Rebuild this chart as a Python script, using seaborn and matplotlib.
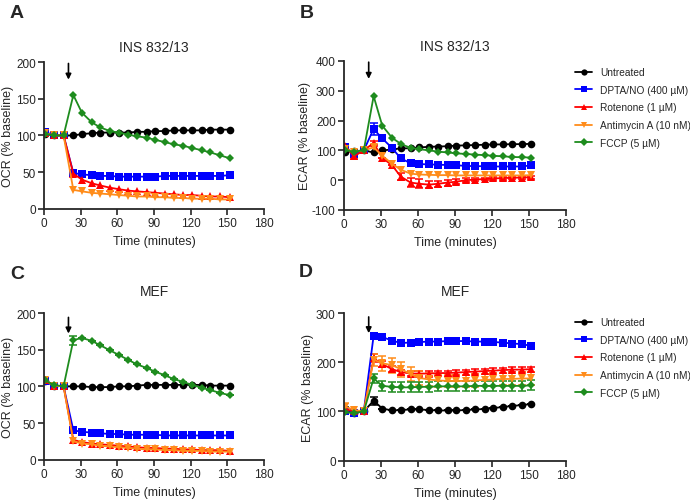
import matplotlib
matplotlib.use("Agg")
import matplotlib.pyplot as plt
import numpy as np
import pandas as pd
import seaborn as sns

# sampling times (minutes)
times = [1, 8, 16, 24, 31, 39, 46, 54, 61, 69, 76, 84, 91, 99, 106, 114, 121, 129, 136, 144, 152]
treatments = ["Untreated", "DPTA/NO (400 \u00b5M)", "Rotenone (1 \u00b5M)",
              "Antimycin A (10 nM)", "FCCP (5 \u00b5M)"]
colors = ["#000000", "#0000FF", "#FF0000", "#FF8C1A", "#1E8C1E"]
marker_styles = ["o", "s", "^", "v", "D"]

# A: OCR, INS 832/13
a_untreated = [102, 100, 100, 100, 102, 103, 104, 104, 104, 104, 105, 105, 106, 106, 107, 107, 107, 107, 108, 108, 108]
a_dpta = [105, 100, 100, 49, 47, 46, 45, 45, 44, 44, 44, 44, 44, 45, 45, 45, 45, 45, 45, 45, 46]
a_rotenone = [103, 100, 100, 48, 40, 35, 32, 29, 27, 25, 24, 23, 22, 21, 20, 19, 19, 18, 17, 17, 16]
a_antimycin = [103, 100, 100, 26, 24, 22, 21, 20, 19, 18, 17, 17, 16, 16, 15, 15, 14, 14, 14, 13, 13]
a_fccp = [102, 100, 100, 155, 131, 118, 111, 106, 104, 101, 99, 97, 94, 91, 88, 86, 83, 80, 77, 73, 69]

# B: ECAR, INS 832/13
b_untreated = [95, 97, 100, 93, 100, 103, 107, 107, 110, 112, 113, 114, 116, 117, 118, 119, 120, 120, 121, 121, 122]
b_dpta = [112, 88, 100, 172, 140, 108, 73, 57, 54, 53, 52, 51, 50, 48, 47, 47, 46, 46, 46, 46, 50]
b_rotenone = [115, 80, 100, 125, 75, 50, 12, -8, -12, -15, -12, -8, -5, 0, 2, 4, 6, 7, 8, 9, 10]
b_antimycin = [105, 95, 100, 110, 82, 55, 35, 22, 19, 18, 17, 17, 16, 16, 16, 16, 16, 16, 16, 16, 17]
b_fccp = [100, 96, 100, 282, 183, 142, 122, 108, 104, 100, 96, 93, 90, 88, 86, 84, 82, 80, 78, 77, 76]
b_dpta_err = [8, 0, 0, 20, 0, 0, 0, 0, 0, 0, 0, 0, 0, 0, 0, 0, 0, 0, 0, 0, 0]
b_rotenone_err = [8, 8, 0, 8, 0, 0, 12, 15, 15, 12, 10, 10, 8, 6, 5, 5, 5, 5, 5, 5, 5]

# C: OCR, MEF
c_untreated = [107, 101, 100, 100, 100, 99, 99, 99, 100, 100, 101, 102, 102, 102, 102, 102, 102, 102, 101, 101, 101]
c_dpta = [107, 101, 100, 40, 38, 37, 36, 35, 35, 34, 34, 34, 34, 33, 33, 33, 33, 33, 33, 33, 33]
c_rotenone = [108, 101, 100, 27, 24, 22, 21, 20, 19, 18, 17, 16, 16, 15, 15, 14, 14, 13, 13, 13, 12]
c_antimycin = [109, 101, 100, 25, 22, 21, 19, 18, 17, 16, 15, 14, 14, 13, 13, 12, 12, 12, 11, 11, 11]
c_fccp = [108, 102, 100, 163, 166, 162, 156, 149, 143, 136, 130, 125, 120, 115, 110, 106, 102, 98, 95, 91, 88]
c_fccp_err = [0, 0, 0, 6, 0, 0, 0, 0, 0, 0, 0, 0, 0, 0, 0, 0, 0, 0, 0, 0, 0]

# D: ECAR, MEF
d_untreated = [103, 97, 100, 122, 106, 102, 103, 104, 104, 103, 102, 102, 102, 103, 104, 105, 107, 109, 111, 113, 115]
d_dpta = [100, 97, 100, 254, 251, 244, 239, 240, 241, 242, 242, 243, 243, 243, 242, 242, 241, 240, 238, 237, 233]
d_rotenone = [105, 100, 100, 208, 196, 186, 180, 177, 177, 177, 178, 178, 179, 180, 181, 182, 183, 184, 185, 185, 186]
d_antimycin = [110, 103, 100, 205, 198, 194, 186, 176, 168, 165, 163, 162, 162, 162, 163, 164, 165, 166, 166, 167, 167]
d_fccp = [98, 97, 100, 167, 152, 150, 149, 149, 150, 150, 151, 151, 151, 151, 152, 152, 152, 152, 152, 152, 153]
d_untreated_err = [6, 4, 0, 8, 0, 0, 0, 0, 0, 0, 0, 0, 0, 0, 0, 0, 0, 0, 0, 0, 0]
d_rotenone_err = [0, 0, 0, 8, 6, 6, 5, 5, 5, 5, 5, 5, 5, 5, 5, 5, 5, 5, 5, 5, 5]
d_antimycin_err = [8, 0, 0, 12, 15, 15, 15, 15, 14, 14, 13, 13, 13, 13, 13, 13, 13, 13, 13, 13, 13]
d_fccp_err = [0, 0, 0, 10, 10, 10, 10, 10, 10, 10, 10, 10, 10, 10, 10, 10, 10, 10, 10, 10, 10]


def make_frame(series):
    rows = []
    for name, vals in zip(treatments, series):
        for t, v in zip(times, vals):
            rows.append({"time": t, "value": v, "treatment": name})
    return pd.DataFrame(rows)


def draw_panel(ax, series, errors, ylim, yticks, ylabel, title, title_pad, arrow, legend):
    df = make_frame(series)
    sns.lineplot(data=df, x="time", y="value", hue="treatment", style="treatment",
                 hue_order=treatments, style_order=treatments,
                 palette=dict(zip(treatments, colors)),
                 markers=dict(zip(treatments, marker_styles)), dashes=False,
                 errorbar=None, linewidth=1.3, markersize=5.5, markeredgewidth=0,
                 legend=legend, ax=ax)
    for line in ax.lines:
        if line.get_marker() == "D":
            line.set_markersize(3.8)
    for name, col in zip(treatments, colors):
        err = errors.get(name)
        if err is not None:
            vals = series[treatments.index(name)]
            ax.errorbar(times, vals, yerr=err, fmt="none", ecolor=col,
                        elinewidth=1.1, capsize=3, capthick=1.1, zorder=1)
    ax.set_xlim(0, 180)
    ax.set_xticks(range(0, 181, 30))
    ax.set_ylim(*ylim)
    ax.set_yticks(yticks)
    ax.set_xlabel("Time (minutes)", fontsize=9, labelpad=4)
    ax.set_ylabel(ylabel, fontsize=9, labelpad=1)
    ax.set_title(title, fontsize=10, pad=title_pad)
    ax.tick_params(labelsize=8.5, length=4, width=1.2, pad=2)
    for side in ["left", "bottom"]:
        ax.spines[side].set_linewidth(1.3)
    sns.despine(ax=ax)
    ax.annotate("", xy=(20, arrow[1]), xytext=(20, arrow[0]),
                arrowprops=dict(arrowstyle="-|>", color="black", lw=1.2,
                                mutation_scale=8, shrinkA=0, shrinkB=0))


sns.set_style("ticks")
plt.rcParams["font.family"] = ["Liberation Sans", "DejaVu Sans"]
plt.rcParams["axes.unicode_minus"] = False

fig = plt.figure(figsize=(6.9, 5.02), dpi=100)
ax_a = fig.add_axes([0.0638, 0.5817, 0.3188, 0.2928])
ax_b = fig.add_axes([0.4986, 0.5797, 0.3217, 0.2968])
ax_c = fig.add_axes([0.0638, 0.0823, 0.3188, 0.2922])
ax_d = fig.add_axes([0.4986, 0.0803, 0.3217, 0.2942])

draw_panel(ax_a, [a_untreated, a_dpta, a_rotenone, a_antimycin, a_fccp], {},
           (0, 200), range(0, 201, 50), "OCR (% baseline)", "INS 832/13", 8, (198, 176), False)
draw_panel(ax_b, [b_untreated, b_dpta, b_rotenone, b_antimycin, b_fccp],
           {treatments[1]: b_dpta_err, treatments[2]: b_rotenone_err},
           (-100, 400), range(-100, 401, 100), "ECAR (% baseline)", "INS 832/13", 8, (396, 340), True)
draw_panel(ax_c, [c_untreated, c_dpta, c_rotenone, c_antimycin, c_fccp],
           {treatments[4]: c_fccp_err},
           (0, 200), range(0, 201, 50), "OCR (% baseline)", "MEF", 13, (194, 172), False)
draw_panel(ax_d, [d_untreated, d_dpta, d_rotenone, d_antimycin, d_fccp],
           {treatments[0]: d_untreated_err, treatments[2]: d_rotenone_err,
            treatments[3]: d_antimycin_err, treatments[4]: d_fccp_err},
           (0, 300), range(0, 301, 100), "ECAR (% baseline)", "MEF", 13, (292, 259), True)

# panel letters
for letter, px, py in [("A", 10, 5), ("B", 300, 5), ("C", 10, 266), ("D", 299, 264)]:
    fig.text(px / 690, 1 - py / 502, letter, fontsize=14, fontweight="bold",
             va="top", ha="left")

for ax, ypos in [(ax_b, 0.864), (ax_d, 0.366)]:
    handles, labels = ax.get_legend_handles_labels()
    ax.get_legend().remove()
    for h in handles:
        h.set_markersize(4.5)
    fig.legend(handles, labels, loc="upper left", bbox_to_anchor=(0.834, ypos),
               frameon=False, fontsize=7.3, handlelength=1.6, handletextpad=0.8,
               labelspacing=0.75, borderpad=0, borderaxespad=0)

fig.savefig("out.png", dpi=100)
